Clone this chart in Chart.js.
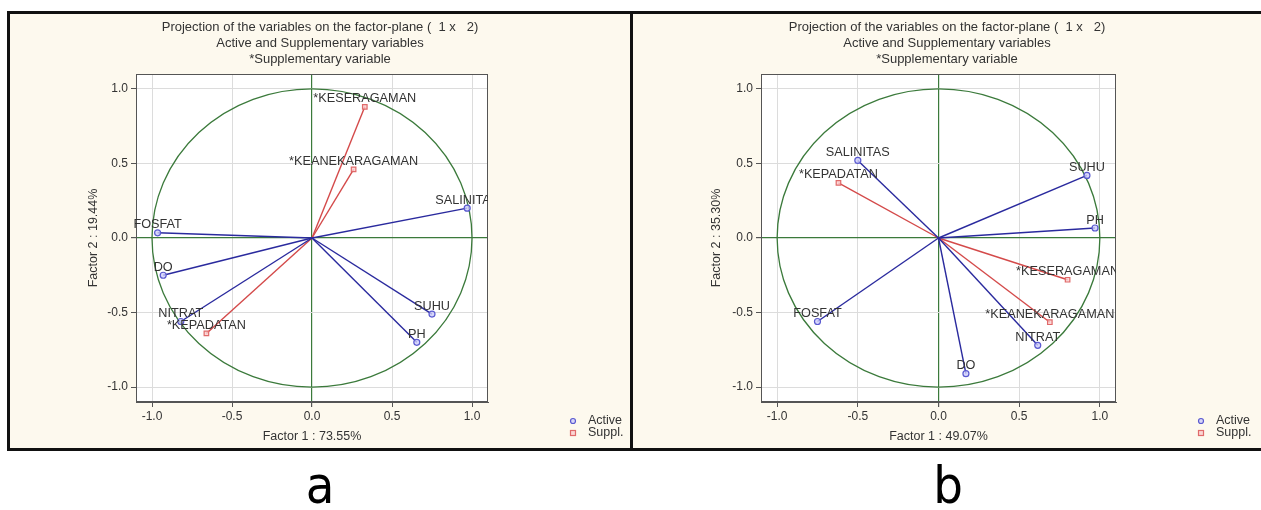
<!DOCTYPE html>
<html><head><meta charset="utf-8">
<script src="https://cdn.jsdelivr.net/npm/chart.js@4.4.1/dist/chart.umd.min.js"></script>
<style>
html,body{margin:0;padding:0;background:#fff;width:1261px;height:510px;overflow:hidden;position:relative;}
.panel{position:absolute;background:#fdf9ee;box-sizing:border-box;border:3px solid #111;}
#pa{left:7px;top:11px;width:626px;height:440px;}
#pb{left:630px;top:11px;width:634px;height:440px;}
canvas{position:absolute;left:0;top:0;}
.tag{position:absolute;top:455px;font-family:"Liberation Sans Narrow","DejaVu Sans Condensed","Liberation Sans",sans-serif;font-size:52px;color:#000;line-height:60px;text-align:center;width:100px;}
</style>
</head><body>
<div class="panel" id="pa"><canvas id="ca" width="620" height="434"></canvas></div>
<div class="panel" id="pb"><canvas id="cb" width="628" height="434"></canvas></div>
<div class="tag" style="left:270px">a</div>
<div class="tag" style="left:898px">b</div>
<script>
// ---- data ----
const variables = ['SALINITAS','SUHU','PH','DO','NITRAT','FOSFAT','KEPADATAN','KEANEKARAGAMAN','KESERAGAMAN'];
const isSupplementary = [false,false,false,false,false,false,true,true,true];
const factor1A = [0.97, 0.75, 0.655, -0.93, -0.82, -0.965, -0.66, 0.26, 0.33];
const factor2A = [0.20, -0.51, -0.70, -0.25, -0.56, 0.035, -0.64, 0.46, 0.88];
const factor1B = [-0.50, 0.92, 0.97, 0.17, 0.615, -0.75, -0.62, 0.69, 0.80];
const factor2B = [0.52, 0.42, 0.067, -0.91, -0.72, -0.56, 0.37, -0.565, -0.28];
const tickValues = [-1.0, -0.5, 0.0, 0.5, 1.0];
const axisMin = -1.1, axisMax = 1.1;
const titleLines = ['Projection of the variables on the factor-plane (  1 x   2)','Active and Supplementary variables','*Supplementary variable'];
const legendLabels = ['Active','Suppl.'];
const xTitleA = 'Factor 1 : 73.55%', yTitleA = 'Factor 2 : 19.44%';
const xTitleB = 'Factor 1 : 49.07%', yTitleB = 'Factor 2 : 35.30%';

const FONT = '"Liberation Sans", Arial, sans-serif';
Chart.defaults.font.family = FONT;
Chart.defaults.font.size = 12;
Chart.defaults.color = '#333';

const GREEN = '#3b7a3b';
const ACT_LINE = '#2a2a9e', ACT_PT = '#5a5ad0', ACT_FILL = 'rgba(205,205,250,0.8)';
const SUP_LINE = '#d44a4a', SUP_PT = '#e06a6a', SUP_FILL = 'rgba(250,205,205,0.8)';

function label(i){ return (isSupplementary[i] ? '*' : '') + variables[i]; }

function buildDatasets(f1, f2){
  return variables.map((v,i)=>{
    const s = isSupplementary[i];
    return {
      label: label(i),
      data: [{x:0,y:0},{x:f1[i],y:f2[i]}],
      showLine: true,
      borderColor: s ? SUP_LINE : ACT_LINE,
      borderWidth: 1.4,
      pointRadius: [0, s ? 3.2 : 3],
      pointStyle: s ? 'rect' : 'circle',
      pointBorderColor: s ? SUP_PT : ACT_PT,
      pointBackgroundColor: s ? SUP_FILL : ACT_FILL,
      pointBorderWidth: 1.2
    };
  });
}

const decor = {
  id: 'decor',
  beforeDraw(chart){
    const {ctx, chartArea:a} = chart;
    ctx.save(); ctx.fillStyle = '#fff'; ctx.fillRect(a.left, a.top, a.right-a.left, a.bottom-a.top); ctx.restore();
  },
  beforeDatasetsDraw(chart){
    const {ctx, chartArea:a, scales:{x,y}} = chart;
    ctx.save();
    ctx.beginPath(); ctx.rect(a.left, a.top, a.right-a.left, a.bottom-a.top); ctx.clip();
    const cx = x.getPixelForValue(0), cy = y.getPixelForValue(0);
    const rx = x.getPixelForValue(1) - cx, ry = cy - y.getPixelForValue(1);
    ctx.beginPath(); ctx.ellipse(cx, cy, rx, ry, 0, 0, Math.PI*2);
    ctx.strokeStyle = GREEN; ctx.lineWidth = 1.3; ctx.stroke();
    ctx.restore();
    ctx.save();
    ctx.strokeStyle = '#555'; ctx.lineWidth = 1;
    ctx.strokeRect(Math.round(a.left)+0.5, Math.round(a.top)+0.5, Math.round(a.right-a.left)-1, Math.round(a.bottom-a.top)-1);
    ctx.restore();
  },
  afterDatasetsDraw(chart){
    const {ctx, chartArea:a, scales:{x,y}} = chart;
    ctx.save();
    ctx.beginPath(); ctx.rect(a.left-3, a.top, a.right-a.left+3, a.bottom-a.top); ctx.clip();
    ctx.font = '12.7px ' + FONT;
    ctx.fillStyle = '#333'; ctx.textAlign = 'center'; ctx.textBaseline = 'middle';
    chart.data.datasets.forEach(ds=>{
      const p = ds.data[1];
      ctx.fillText(ds.label, x.getPixelForValue(p.x), y.getPixelForValue(p.y) - 8);
    });
    ctx.restore();
    // legend
    ctx.save();
    const lx = a.right + 85, ly1 = a.bottom + 19, ly2 = a.bottom + 31;
    ctx.lineWidth = 1.2;
    ctx.beginPath(); ctx.arc(lx, ly1, 2.5, 0, Math.PI*2); ctx.fillStyle = ACT_FILL; ctx.fill(); ctx.strokeStyle = ACT_PT; ctx.stroke();
    ctx.fillStyle = SUP_FILL; ctx.fillRect(lx-2.5, ly2-2.5, 5, 5); ctx.strokeStyle = SUP_PT; ctx.strokeRect(lx-2.5, ly2-2.5, 5, 5);
    ctx.font = '12.5px ' + FONT; ctx.fillStyle = '#333';
    ctx.textAlign = 'left'; ctx.textBaseline = 'middle';
    ctx.fillText(legendLabels[0], lx + 15, ly1);
    ctx.fillText(legendLabels[1], lx + 15, ly2);
    ctx.restore();
  }
};

function axis(titleText, isY, width){
  return {
    type: 'linear', min: axisMin, max: axisMax,
    afterBuildTicks(scale){ scale.ticks = tickValues.map(v=>({value:v})); },
    afterFit(scale){ if (isY) scale.width = width; else scale.height = 46; },
    ticks: { callback: v => Number(v).toFixed(1), color: '#333', font:{size:12}, padding: isY ? 3 : 2, autoSkip:false, maxRotation:0 },
    grid: {
      color: c => (c.tick && c.tick.value === 0) ? GREEN : '#dcdcdc',
      lineWidth: c => (c.tick && c.tick.value === 0) ? 1.2 : 1,
      tickColor: '#555', tickLength: 5
    },
    border: { display: true, color: '#555' },
    title: { display: true, text: titleText, color: '#333', font:{size:12.5},
             padding: isY ? {top: 76, bottom: 0} : {top: 0, bottom: 4} }
  };
}

function spacer(width){
  return {
    type: 'linear', position: 'right', display: true, min: 0, max: 1,
    afterFit(scale){ scale.width = width; },
    ticks: { display: false }, grid: { display: false, drawTicks: false }, border: { display: false },
    title: { display: false }
  };
}

function makeChart(id, f1, f2, xt, yt, yWidth, padRight){
  new Chart(document.getElementById(id), {
    type: 'scatter',
    data: { datasets: buildDatasets(f1, f2) },
    options: {
      responsive: false, animation: false, devicePixelRatio: 1,
      layout: { padding: 0 },
      plugins: {
        legend: { display: false }, tooltip: { enabled: false },
        title: { display: true, text: titleLines, color: '#333', font: { size: 13, weight: 'normal', lineHeight: '16px' }, padding: { top: 5, bottom: 7 } }
      },
      scales: { x: axis(xt, false), y: axis(yt, true, yWidth), yr: spacer(padRight) }
    },
    plugins: [decor]
  });
}

makeChart('ca', factor1A, factor2A, xTitleA, yTitleA, 126, 142);
makeChart('cb', factor1B, factor2B, xTitleB, yTitleB, 128, 145);
</script>
</body></html>
